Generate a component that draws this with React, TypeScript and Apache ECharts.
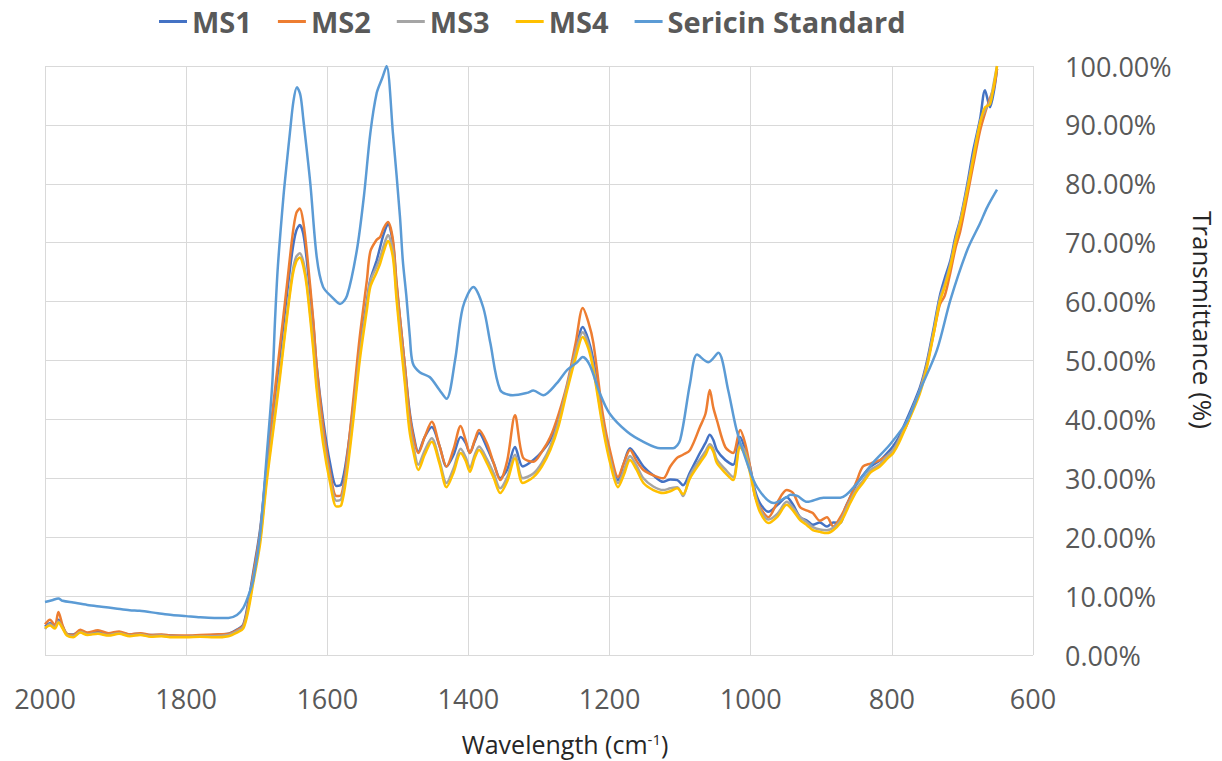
import React, { useEffect, useRef } from "react";
import * as echarts from "echarts";

// Shared wavenumber grid for the four MS samples (cm-1)
const MS_WAVENUMBERS = [
  2000, 1993, 1986, 1981, 1975, 1969, 1960, 1950, 1940, 1925, 1910, 1895, 1880, 1865, 1850, 1835, 1820, 1800, 1780, 1760, 1740, 1728,
  1719, 1712, 1705, 1695, 1686, 1677, 1667, 1657, 1649, 1644, 1639, 1634, 1629, 1620, 1615, 1606, 1596, 1587, 1580, 1572, 1563, 1554, 1544, 1539, 1530, 1525, 1520,
  1514, 1507, 1502, 1496, 1490, 1484, 1478, 1471,
  1462, 1452, 1441, 1431, 1421, 1411, 1404, 1398, 1391, 1385,
  1374, 1364, 1355, 1345, 1334, 1323, 1308, 1296, 1284, 1272,
  1260, 1248, 1238, 1230, 1223, 1209, 1198, 1188, 1180, 1171,
  1162, 1152, 1138, 1124, 1114, 1104, 1096, 1086, 1072, 1064,
  1058, 1053, 1048, 1036, 1025, 1015, 1008, 1001, 994, 987,
  975, 962, 949, 940, 930, 920, 912, 902, 892, 883,
  873, 866, 859, 850, 841, 830, 817, 805, 798, 790,
  779, 770, 760, 750, 740, 732, 725, 717, 710, 703,
  693, 685, 675, 668, 661, 655, 651,
];

const MS1 = [
  4.8, 5.4, 5.0, 6.0, 4.8, 3.6, 3.5, 4.0, 3.7, 3.9, 3.6, 3.8, 3.5, 3.6, 3.4, 3.4, 3.3, 3.2, 3.3, 3.4, 3.6, 4.3,
  5.2, 9, 14, 21.5, 32, 41, 51, 61.5, 69, 72, 73, 71.5, 67, 56.5, 49, 40, 32.5, 28.7, 29, 34, 42.5, 52, 60, 63.7, 67, 69.3, 71.5,
  73.2, 70, 63, 56, 49, 42, 37.5, 34.5,
  37, 38.7, 35.5, 32, 34, 37, 36, 34.3, 36.3, 37.7,
  35.3, 32.5, 30, 31.5, 35.3, 32, 33.1, 34.5, 36.5, 40,
  45.5, 51.5, 55.7, 53.5, 50.1, 39.4, 33, 29.7, 32.5, 35.1,
  33.8, 32, 30.5, 29.4, 29.8, 29.7, 28.8, 31, 34.3, 36,
  37.4, 36.5, 34.8, 33.1, 32.3, 37, 35, 32, 28, 25.8,
  24.3, 25.5, 26.8, 25.5, 23.4, 22.8, 22.1, 22.5, 21.8, 22.5,
  22.4, 25, 26.8, 29, 30.5, 32, 33, 34.5, 35.5, 37,
  40, 42.5, 45.5, 50, 56, 61, 64, 67, 71, 74,
  80, 85.5, 91, 95.9, 93, 96, 99.5,
];

const MS2 = [
  5.2, 6.0, 5.0, 7.3, 5.0, 3.6, 3.4, 4.3, 3.8, 4.2, 3.7, 4.0, 3.5, 3.7, 3.4, 3.5, 3.3, 3.3, 3.4, 3.5, 3.6, 4.2,
  5, 8.5, 13.5, 21, 32, 42, 52.5, 63, 71.5, 75, 75.8, 73.5, 68.5, 57, 49, 39, 31, 27, 27.2, 33.5, 43.5, 54, 63.5, 68.5, 70.5, 71, 72.5,
  73.5, 70.5, 63.5, 56, 49, 41.5, 37, 34.3,
  37, 39.6, 35.5, 32, 35, 38.9, 36.5, 34.3, 36.5, 38.2,
  36, 32.5, 29.7, 33, 40.7, 33.6, 32.8, 34.5, 37, 41,
  46.1, 53, 58.9, 56.5, 53, 40.4, 34, 30.2, 32.5, 34.8,
  33, 31.4, 30.5, 30, 32, 33.5, 34, 34.8, 38.7, 41,
  45, 42, 39.9, 35.3, 34.3, 38.2, 36, 32, 27, 25.1,
  23.4, 26, 28, 27.5, 25.1, 24.5, 24.1, 22.8, 23.4, 21.8,
  23.4, 25, 26.8, 29.5, 32, 32.5, 33.1, 34, 34.8, 36.5,
  39, 42, 45, 49.5, 55, 59.5, 61, 65, 69, 72,
  78, 83, 89, 92, 94.5, 96.5, 99.5,
];

const MS3 = [
  4.4, 5.2, 4.7, 5.7, 4.6, 3.5, 3.2, 3.9, 3.5, 3.7, 3.4, 3.7, 3.3, 3.5, 3.2, 3.3, 3.1, 3.1, 3.2, 3.2, 3.4, 4.0,
  4.8, 8, 12.8, 19.8, 30, 38.5, 48, 58, 65.2, 67.6, 68.2, 66.8, 63.2, 53, 46, 37, 30, 26.2, 26.5, 32, 41, 51, 59.5, 63.5, 66, 67.5, 69.5,
  71.3, 68.5, 61.5, 54, 47, 39.5, 35.5, 32.3,
  34.7, 36.8, 33, 29.2, 31.7, 35, 33.6, 31.8, 34, 35.4,
  33.3, 30.8, 28.3, 30.2, 34, 30, 30.8, 32.6, 35.4, 39.7,
  45.7, 51.5, 54.8, 52.8, 49, 38.8, 32.7, 29.2, 31.2, 33.8,
  32.2, 30, 28.6, 28, 28.3, 28.5, 27, 30.5, 33.2, 34.6,
  35.8, 35, 33.2, 31.5, 30.2, 35.8, 34.5, 31.5, 27.5, 24.8,
  23, 24, 26, 25, 23.4, 22.5, 21.7, 21.3, 21.2, 21.6,
  22.8, 24.5, 26.2, 28.2, 29.6, 31.4, 32.4, 34, 34.8, 36.5,
  39.5, 42, 45, 49.5, 55.5, 60.5, 63, 66.5, 70.5, 73.8,
  79.5, 84.5, 90.5, 92.5, 94, 97.5, 100,
];

const MS4 = [
  4.6, 5.0, 4.5, 5.5, 4.5, 3.3, 3.0, 3.8, 3.4, 3.6, 3.3, 3.6, 3.2, 3.4, 3.1, 3.2, 3.0, 3.0, 3.1, 3.0, 3.2, 3.8,
  4.5, 7.5, 12.2, 19, 29.2, 37.7, 47.2, 57.4, 64.5, 66.8, 67.5, 66, 62.5, 52, 45, 36, 29.2, 25.2, 25.5, 31, 40, 50, 58.5, 62.5, 65, 66.5, 68.5,
  70.3, 67.5, 60.5, 53, 46, 38.5, 34.5, 31.4,
  34, 36.2, 32.5, 28.5, 31, 34.3, 33, 31.1, 33.5, 34.8,
  32.6, 30, 27.5, 29.5, 33.4, 29.2, 30.2, 32, 34.8, 39,
  45, 50.5, 54, 52, 48.4, 38.2, 32, 28.5, 30.5, 33.1,
  31.5, 29.2, 28, 27.5, 27.8, 28.3, 27.3, 30, 32.6, 34,
  35.3, 34.5, 32.6, 30.9, 29.7, 35.3, 34, 30.9, 27, 24.3,
  22.4, 23.5, 25.5, 24.5, 22.9, 22, 21.2, 20.9, 20.7, 21.2,
  22.4, 24, 25.8, 27.8, 29.2, 31, 32, 33.5, 34.3, 36,
  39, 41.5, 44.5, 49, 55, 60, 62.5, 66, 70, 73.3,
  79, 84, 90.3, 93, 93.5, 97, 100,
];

// Sericin standard has its own sampling
const SS_WAVENUMBERS = [
  2000, 1990, 1981, 1975, 1960, 1940, 1920, 1900, 1880, 1866,
  1840, 1820, 1800, 1780, 1760, 1740, 1728, 1719, 1712, 1705,
  1695, 1686, 1678, 1674, 1670, 1662, 1657, 1653, 1648, 1643,
  1638, 1634, 1624, 1615, 1606, 1592, 1582, 1572, 1558, 1548,
  1539, 1530, 1522, 1516, 1507, 1497, 1493, 1488, 1483, 1479,
  1469, 1455, 1441, 1431, 1419, 1408, 1393, 1379, 1369, 1355,
  1337, 1317, 1308, 1294, 1275, 1260, 1246, 1238, 1228, 1214,
  1200, 1175, 1152, 1128, 1110, 1100, 1086, 1076, 1060, 1046,
  1032, 1020, 1005, 991, 968, 949, 944, 934, 920, 897,
  873, 849, 827, 803, 779, 760, 736, 717, 693, 675,
  665, 651,
];

const SERICIN = [
  9.0, 9.3, 9.6, 9.2, 8.9, 8.5, 8.2, 7.9, 7.6, 7.5,
  7.1, 6.8, 6.6, 6.4, 6.3, 6.3, 6.8, 8, 10, 12.7,
  20.7, 33.6, 46, 57, 66, 78, 84, 88.6, 94, 96.4,
  95, 91, 80, 67.6, 62.5, 60.6, 59.6, 61, 68.8, 78,
  88.6, 95.4, 98, 100, 88.6, 74.4, 67, 61, 54, 49.6,
  48, 47.2, 45, 43.5, 50, 59, 62.5, 59, 53, 45,
  44.1, 44.5, 44.9, 44.1, 46.1, 48.4, 49.7, 50.6, 49.2, 44.5,
  41, 37.9, 36.2, 35.1, 35.1, 36.5, 46.1, 51, 49.7, 51.3,
  45, 38.2, 32.6, 28.5, 25.8, 26.8, 27.2, 27, 26, 26.7,
  26.7, 29.2, 32.6, 35.7, 39.6, 45, 51.8, 60.3, 68.8, 73.3,
  76, 79,
];

const SERIES_NAMES = ["MS1", "MS2", "MS3", "MS4", "Sericin Standard"];
const COLORS = ["#4472C4", "#ED7D31", "#A5A5A5", "#FFC000", "#5B9BD5"];

const pair = (xs: number[], ys: number[]) => xs.map((x, i) => [x, ys[i]]);

export default function App() {
  const ref = useRef<HTMLDivElement>(null);

  useEffect(() => {
    document.body.style.margin = "0";
    const chart = echarts.init(ref.current!, null, { renderer: "svg" });
    const font = "'Open Sans', 'Noto Sans', sans-serif";
    const datasets = [
      pair(MS_WAVENUMBERS, MS1),
      pair(MS_WAVENUMBERS, MS2),
      pair(MS_WAVENUMBERS, MS3),
      pair(MS_WAVENUMBERS, MS4),
      pair(SS_WAVENUMBERS, SERICIN),
    ];
    chart.setOption({
      animation: false,
      backgroundColor: "#ffffff",
      color: COLORS,
      textStyle: { fontFamily: font },
      legend: {
        top: 2,
        left: 154,
        icon: "rect",
        itemWidth: 28,
        itemHeight: 3,
        itemGap: 26,
        textStyle: {
          fontFamily: font,
          fontWeight: "bold",
          fontSize: 29,
          color: "#595959",
        },
        data: SERIES_NAMES,
      },
      grid: { left: 45, right: 189, top: 66, bottom: 106, containLabel: false },
      xAxis: {
        type: "value",
        min: 600,
        max: 2000,
        interval: 200,
        inverse: true,
        axisLine: { show: false },
        axisTick: { show: false },
        splitLine: { show: true, lineStyle: { color: "#d9d9d9", width: 1 } },
        axisLabel: {
          margin: 30,
          fontSize: 27,
          color: "#595959",
          fontFamily: font,
          formatter: (v: number) => String(v),
        },
        name: "Wavelength (cm{sup|-1})",
        nameLocation: "middle",
        nameGap: 76,
        nameTextStyle: {
          fontSize: 25,
          color: "#262626",
          fontFamily: font,
          padding: [0, 0, 0, 52],
          rich: {
            sup: { fontSize: 15, verticalAlign: "top", color: "#262626", fontFamily: font },
          },
        },
      },
      yAxis: {
        type: "value",
        position: "right",
        min: 0,
        max: 100,
        interval: 10,
        axisLine: { show: false },
        axisTick: { show: false },
        splitLine: { show: true, lineStyle: { color: "#d9d9d9", width: 1 } },
        axisLabel: {
          margin: 32,
          fontSize: 27,
          color: "#595959",
          fontFamily: font,
          formatter: (v: number) => v.toFixed(2) + "%",
        },
      },
      graphic: [
        {
          type: "text",
          x: 1203,
          y: 320,
          rotation: -Math.PI / 2,
          style: {
            text: "Transmittance (%)",
            fontSize: 26,
            fill: "#262626",
            fontFamily: font,
            textAlign: "center",
            textVerticalAlign: "middle",
          },
        },
      ],
      series: SERIES_NAMES.map((name, i) => ({
        name,
        type: "line",
        data: datasets[i],
        symbol: "none",
        smooth: 0.3,
        lineStyle: { width: 2.5, color: COLORS[i] },
        itemStyle: { color: COLORS[i] },
      })),
    });
    return () => chart.dispose();
  }, []);

  return <div ref={ref} style={{ width: 1222, height: 761 }} />;
}
